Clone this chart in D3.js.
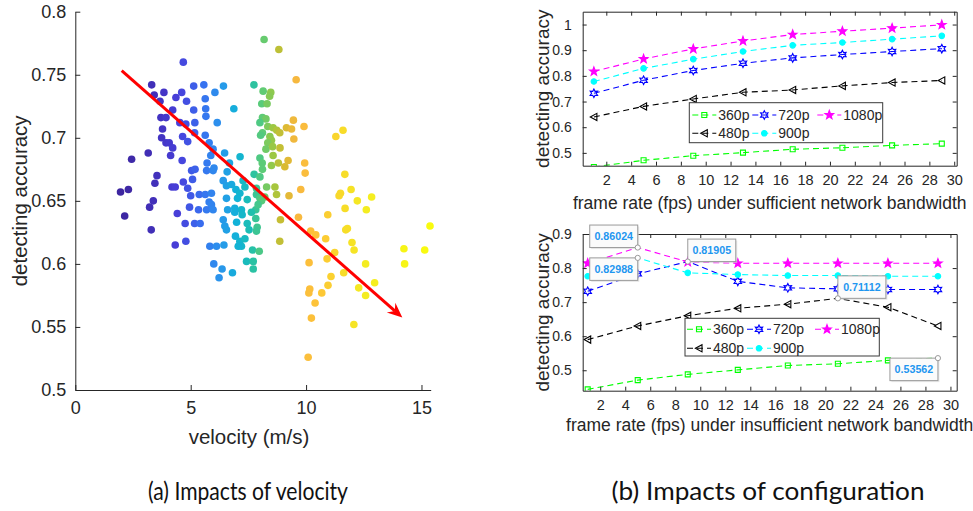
<!DOCTYPE html>
<html>
<head>
<meta charset="utf-8">
<script src="https://cdn.jsdelivr.net/npm/d3@7"></script>
<style>
  body { margin: 0; background: #fff; }
  svg { display: block; }
</style>
</head>
<body>
<svg id="chart" width="973" height="511"></svg>
<script>
// ---------------- DATA ----------------
// (a) scatter: velocity (m/s) vs detecting accuracy
const velocity = [
  4.68,3.31,3.42,3.84,3.67,4.36,4.61,4.82,5.13,5.57,6.05,6.42,5.63,5.13,5.65,5.66,5.18,6.15,6.87,4.22,
  3.71,3.93,4.53,4.79,3.78,3.74,3.93,4.07,4.22,4.13,4.65,4.87,5.17,5.63,5.80,5.97,5.87,5.71,5.69,5.97,
  6.47,7.14,6.68,6.58,3.16,2.44,4.63,3.54,3.45,4.19,4.33,5.04,5.19,4.68,4.87,5.08,1.96,2.30,3.38,3.22,
  5.37,5.63,5.90,5.00,5.80,5.90,6.41,6.55,6.77,6.96,7.13,7.27,7.75,6.01,7.35,7.03,7.45,6.55,
  8.18,8.82,9.57,7.74,8.14,8.47,8.42,8.08,8.31,8.11,8.26,8.00,8.34,8.57,8.73,8.86,9.15,9.37,9.45,9.91,
  9.47,8.11,8.03,8.43,8.50,8.34,8.26,8.55,8.87,8.57,8.50,8.80,9.08,9.22,9.94,9.96,8.00,8.10,8.11,8.00,
  11.29,11.60,11.68,11.95,11.49,11.43,12.22,12.84,11.69,12.61,9.77,9.26,8.65,8.72,8.29,7.85,7.85,8.00,8.21,8.07,
  2.14,3.29,4.42,4.95,4.76,5.17,5.41,4.33,4.79,5.34,5.69,5.97,5.83,6.12,6.44,6.00,6.36,6.23,6.81,6.41,
  6.48,6.55,6.60,6.91,7.20,7.23,6.94,7.13,7.20,7.42,7.35,7.53,7.68,7.45,6.91,6.99,7.06,7.71,7.71,7.97,
  7.82,7.88,7.82,7.92,7.63,7.85,
  8.89,8.86,9.67,10.94,15.37,10.20,10.42,10.85,11.79,11.72,11.99,12.08,11.24,10.91,10.13,12.58,14.24,15.14,14.27,11.63,
  11.08,12.97,10.95,12.28,12.58,10.16,10.12,10.68,10.39,10.23,12.07,10.09
];
const accuracy = [
  0.760,0.742,0.734,0.736,0.729,0.732,0.736,0.729,0.741,0.742,0.736,0.741,0.731,0.722,0.723,0.717,0.712,0.712,0.723,0.722,
  0.716,0.716,0.712,0.711,0.707,0.700,0.696,0.696,0.692,0.686,0.701,0.697,0.704,0.702,0.696,0.691,0.686,0.680,0.674,0.674,
  0.688,0.685,0.680,0.673,0.688,0.683,0.682,0.670,0.664,0.661,0.661,0.674,0.675,0.665,0.660,0.667,0.657,0.659,0.650,0.645,
  0.655,0.655,0.656,0.654,0.649,0.647,0.666,0.662,0.663,0.659,0.656,0.666,0.671,0.676,0.661,0.652,0.651,0.652,
  0.778,0.770,0.746,0.742,0.737,0.736,0.733,0.727,0.727,0.716,0.715,0.712,0.709,0.708,0.706,0.704,0.708,0.707,0.714,0.709,
  0.699,0.704,0.702,0.701,0.698,0.696,0.691,0.693,0.692,0.686,0.678,0.680,0.677,0.682,0.680,0.672,0.684,0.680,0.675,0.669,
  0.701,0.706,0.671,0.659,0.656,0.654,0.650,0.653,0.644,0.643,0.659,0.654,0.661,0.655,0.661,0.660,0.655,0.652,0.653,0.650,
  0.638,0.627,0.640,0.645,0.632,0.632,0.632,0.615,0.618,0.643,0.643,0.643,0.614,0.614,0.615,0.600,0.596,0.589,0.593,0.635,
  0.630,0.627,0.643,0.644,0.643,0.639,0.622,0.618,0.614,0.602,0.620,0.627,0.611,0.632,0.641,0.633,0.614,0.602,0.596,0.610,
  0.636,0.629,0.643,0.647,0.641,0.626,
  0.635,0.618,0.637,0.639,0.630,0.626,0.623,0.620,0.628,0.627,0.617,0.611,0.609,0.604,0.601,0.600,0.612,0.611,0.600,0.593,
  0.590,0.585,0.583,0.581,0.575,0.580,0.577,0.577,0.569,0.557,0.552,0.526
];
const trendVelocity = [2.01, 14.17];
const trendAccuracy = [0.7532, 0.5575];
const velocityTicks = [0, 5, 10, 15];
const velocityTickLabels = ["0", "5", "10", "15"];
const accuracyTicksA = [0.5, 0.55, 0.6, 0.65, 0.7, 0.75, 0.8];
const accuracyTickLabelsA = ["0.5", "0.55", "0.6", "0.65", "0.7", "0.75", "0.8"];

// (b) configuration: frame rate vs detecting accuracy
const frameRates = [1, 5, 9, 13, 17, 21, 25, 29];
const resolutions = ["360p", "480p", "720p", "900p", "1080p"];
const sufficient360 = [0.445, 0.471, 0.489, 0.501, 0.514, 0.520, 0.529, 0.536];
const sufficient480 = [0.640, 0.681, 0.710, 0.736, 0.745, 0.761, 0.774, 0.782];
const sufficient720 = [0.732, 0.783, 0.821, 0.849, 0.870, 0.883, 0.895, 0.906];
const sufficient900 = [0.778, 0.829, 0.865, 0.895, 0.919, 0.930, 0.943, 0.956];
const sufficient1080 = [0.817, 0.866, 0.905, 0.936, 0.961, 0.974, 0.986, 0.999];
const insufficient360 = [0.444, 0.471, 0.488, 0.501, 0.514, 0.519, 0.529, 0.53562];
const insufficient480 = [0.590, 0.630, 0.660, 0.682, 0.694, 0.71112, 0.685, 0.630];
const insufficient720 = [0.732, 0.783, 0.81905, 0.761, 0.742, 0.739, 0.737, 0.737];
const insufficient900 = [0.776, 0.82988, 0.786, 0.781, 0.778, 0.778, 0.776, 0.776];
const insufficient1080 = [0.814, 0.86024, 0.818, 0.814, 0.814, 0.814, 0.814, 0.814];
const frameRateTicks = [2, 4, 6, 8, 10, 12, 14, 16, 18, 20, 22, 24, 26, 28, 30];
const topAccuracyTicks = [0.5, 0.6, 0.7, 0.8, 0.9, 1];
const topAccuracyTickLabels = ["0.5", "0.6", "0.7", "0.8", "0.9", "1"];
const bottomAccuracyTicks = [0.5, 0.6, 0.7, 0.8, 0.9];
const bottomAccuracyTickLabels = ["0.5", "0.6", "0.7", "0.8", "0.9"];
// data tips shown on the insufficient-bandwidth plot
const tipSeries = ["1080p", "900p", "720p", "480p", "360p"];
const tipFrameRate = [5, 5, 9, 21, 29];
const tipValue = [0.86024, 0.82988, 0.81905, 0.71112, 0.53562];
const tipLabel = ["0.86024", "0.82988", "0.81905", "0.71112", "0.53562"];

// ---------------- DRAWING ----------------
const svg = d3.select("#chart");
const FONT = "'Liberation Sans', Arial, Helvetica, sans-serif";
const AXC = "#262626";

function styleAxis(g, fs) {
  g.selectAll("path.domain").attr("stroke", AXC).attr("stroke-width", 1);
  g.selectAll(".tick line").attr("stroke", AXC).attr("stroke-width", 1);
  g.selectAll(".tick text").attr("fill", AXC).attr("font-size", fs).attr("font-family", FONT);
}

// ===== (a) scatter =====
const lx = d3.scaleLinear().domain([0, 15.4]).range([75.3, 430.7]);
const ly = d3.scaleLinear().domain([0.5, 0.8]).range([390, 11.7]);
const color = d3.scaleLinear()
  .domain([2, 3.5, 4.5, 5.5, 6.3, 7.0, 7.6, 8.1, 8.6, 9.0, 9.6, 10.5, 11.5, 12.5, 15.4])
  .range(["#3d26a0","#4230bb","#4840db","#3870f0","#2a96ec","#12b2d8","#1cbfb0","#5ccb78",
          "#a0c840","#d4ba30","#f8b840","#fec438","#f8da2a","#f4ec22","#f9fb0e"])
  .clamp(true);

const gA = svg.append("g");
gA.append("g").selectAll("circle")
  .data(d3.range(velocity.length))
  .join("circle")
  .attr("cx", i => lx(velocity[i]))
  .attr("cy", i => ly(accuracy[i]))
  .attr("r", 3.8)
  .attr("fill", i => color(velocity[i]));

const axA_x = gA.append("g").attr("transform", `translate(0,${ly(0.5)})`)
  .call(d3.axisBottom(lx).tickValues(velocityTicks).tickFormat((d, i) => velocityTickLabels[i])
    .tickSizeInner(-5).tickSizeOuter(0).tickPadding(11));
styleAxis(axA_x, 18);
const axA_y = gA.append("g").attr("transform", `translate(${lx(0)},0)`)
  .call(d3.axisLeft(ly).tickValues(accuracyTicksA).tickFormat((d, i) => accuracyTickLabelsA[i])
    .tickSizeInner(-5).tickSizeOuter(0).tickPadding(9));
styleAxis(axA_y, 18);

// trend arrow
{
  const x0 = lx(trendVelocity[0]), y0 = ly(trendAccuracy[0]);
  const x1 = lx(trendVelocity[1]), y1 = ly(trendAccuracy[1]);
  const ang = Math.atan2(y1 - y0, x1 - x0);
  const L = 15, W = 6.5, N = 10;
  const ux = Math.cos(ang), uy = Math.sin(ang);
  const bx = x1 - ux * L, by = y1 - uy * L;
  const nx = x1 - ux * N, ny = y1 - uy * N;
  gA.append("line").attr("x1", x0).attr("y1", y0).attr("x2", nx).attr("y2", ny)
    .attr("stroke", "#ff0000").attr("stroke-width", 3);
  gA.append("path")
    .attr("d", `M${x1},${y1}L${bx - uy * W},${by + ux * W}L${nx},${ny}L${bx + uy * W},${by - ux * W}Z`)
    .attr("fill", "#ff0000");
}

gA.append("text").attr("x", 249).attr("y", 444).attr("text-anchor", "middle")
  .attr("font-family", FONT).attr("font-size", 20.5).attr("fill", AXC).text("velocity (m/s)");
gA.append("text").attr("transform", `translate(27,${(ly(0.5) + ly(0.8)) / 2}) rotate(-90)`)
  .attr("text-anchor", "middle").attr("font-family", FONT).attr("font-size", 20.5).attr("fill", AXC)
  .text("detecting accuracy");

// ===== (b) line panels =====
const seriesColor = { "360p": "#00ff00", "480p": "#000000", "720p": "#0000ff", "900p": "#00ffff", "1080p": "#ff00ff" };

function starPath(n, ro, ri) {
  let p = "";
  for (let k = 0; k < 2 * n; k++) {
    const r = k % 2 === 0 ? ro : ri;
    const a = -Math.PI / 2 + k * Math.PI / n;
    p += (k === 0 ? "M" : "L") + (r * Math.cos(a)).toFixed(2) + "," + (r * Math.sin(a)).toFixed(2);
  }
  return p + "Z";
}
const markerPath = {
  "360p": "M-2.5,-2.5H2.5V2.5H-2.5Z",
  "480p": "M-3.6,0L3,-3.6L3,3.6Z",
  "720p": starPath(6, 4.3, 2.3),
  "900p": d3.symbol(d3.symbolCircle, 24)(),
  "1080p": starPath(5, 4.6, 1.9)
};
const markerFill = { "360p": "none", "480p": "none", "720p": "none", "900p": "#00ffff", "1080p": "#ff00ff" };
const tipPlacement = [["left", "above"], ["left", "below"], ["right", "above"], ["right", "above"], ["left", "below"]];

function drawPanel(p) {
  const x = d3.scaleLinear().domain(p.xDomain).range([p.left, p.right]);
  const y = d3.scaleLinear().domain(p.yDomain).range([p.bottom, p.top]);
  const g = svg.append("g");
  const clipId = "clip-" + p.name;
  svg.append("defs").append("clipPath").attr("id", clipId).append("rect")
    .attr("x", p.left).attr("y", p.top).attr("width", p.right - p.left).attr("height", p.bottom - p.top);

  const line = d3.line().x((d, i) => x(frameRates[i])).y(d => y(d));
  const plot = g.append("g").attr("clip-path", `url(#${clipId})`);
  resolutions.forEach(r => {
    plot.append("path").attr("d", line(p.series[r])).attr("fill", "none")
      .attr("stroke", seriesColor[r]).attr("stroke-width", 1.1).attr("stroke-dasharray", "6,4");
  });
  resolutions.forEach(r => {
    const pts = p.series[r].map((v, i) => ({ v, f: frameRates[i] }))
      .filter(d => !(p.tips && p.tips.some(t => t.s === r && t.x === d.f)));
    plot.append("g").selectAll("path").data(pts).join("path")
      .attr("transform", d => `translate(${x(d.f)},${y(d.v)})`)
      .attr("d", markerPath[r]).attr("fill", markerFill[r])
      .attr("stroke", seriesColor[r]).attr("stroke-width", 1.1);
  });

  // axes box with inward ticks
  const ab = g.append("g").attr("transform", `translate(0,${p.bottom})`)
    .call(d3.axisBottom(x).tickValues(frameRateTicks).tickSizeInner(-4).tickSizeOuter(0).tickPadding(9));
  styleAxis(ab, 14.5);
  const at = g.append("g").attr("transform", `translate(0,${p.top})`)
    .call(d3.axisTop(x).tickValues(frameRateTicks).tickSizeInner(-4).tickSizeOuter(0).tickFormat(""));
  styleAxis(at, 14.5);
  const al = g.append("g").attr("transform", `translate(${p.left},0)`)
    .call(d3.axisLeft(y).tickValues(p.yTicks).tickFormat((d, i) => p.yTickLabels[i])
      .tickSizeInner(-4).tickSizeOuter(0).tickPadding(11));
  styleAxis(al, 14);
  const ar = g.append("g").attr("transform", `translate(${p.right},0)`)
    .call(d3.axisRight(y).tickValues(p.yTicks).tickSizeInner(-4).tickSizeOuter(0).tickFormat(""));
  styleAxis(ar, 14);

  // legend (3 columns, column-major order)
  const lg = g.append("g").attr("transform", `translate(${p.legend.x},${p.legend.y})`);
  lg.append("rect").attr("width", p.legend.w).attr("height", p.legend.h)
    .attr("fill", "#fff").attr("stroke", "#3a3a3a").attr("stroke-width", 1);
  const colX = p.legend.cols, rowY = p.legend.rows;
  resolutions.forEach((r, k) => {
    const c = Math.floor(k / 2), rr = k % 2;
    const lx0 = colX[c], yy = rowY[rr];
    lg.append("line").attr("x1", lx0).attr("x2", lx0 + 24).attr("y1", yy).attr("y2", yy)
      .attr("stroke", seriesColor[r]).attr("stroke-width", 1.1).attr("stroke-dasharray", "6,4");
    lg.append("path").attr("transform", `translate(${lx0 + 12},${yy})`).attr("d", markerPath[r])
      .attr("fill", markerFill[r]).attr("stroke", seriesColor[r]).attr("stroke-width", 1.1);
    lg.append("text").attr("x", lx0 + 26).attr("y", yy + 5).attr("font-family", FONT)
      .attr("font-size", 14).attr("fill", AXC).text(r);
  });

  // data tips
  if (p.tips) {
    p.tips.forEach(t => {
      const px = x(t.x), py = y(t.v);
      const bw = 48, bh = 22.5;
      const bx = t.pos[0] === "left" ? px - bw : px;
      const by = t.pos[1] === "above" ? py - bh : py;
      g.append("rect").attr("x", bx + 1.5).attr("y", by + 1.5).attr("width", bw).attr("height", bh)
        .attr("fill", "#d8d8d8").attr("opacity", 0.6);
      g.append("rect").attr("x", bx).attr("y", by).attr("width", bw).attr("height", bh)
        .attr("fill", "#fbfbfb").attr("stroke", "#9a9a9a").attr("stroke-width", 1);
      g.append("text").attr("x", bx + bw / 2).attr("y", by + bh / 2 + 4).attr("text-anchor", "middle")
        .attr("font-family", FONT).attr("font-weight", "bold").attr("font-size", 10.7)
        .attr("fill", "#1e96f0").text(t.label);
      g.append("circle").attr("cx", px).attr("cy", py).attr("r", 2.6)
        .attr("fill", "#ffffff").attr("stroke", "#9a9a9a").attr("stroke-width", 1);
    });
  }

  g.append("text").attr("x", (p.left + p.right) / 2).attr("y", p.xLabelY).attr("text-anchor", "middle")
    .attr("font-family", FONT).attr("font-size", 17.5).attr("fill", AXC).text(p.xLabel);
  g.append("text").attr("transform", `translate(549,${(p.top + p.bottom) / 2}) rotate(-90)`)
    .attr("text-anchor", "middle").attr("font-family", FONT).attr("font-size", 19).attr("fill", AXC)
    .text("detecting accuracy");
}

drawPanel({
  name: "top", left: 582.7, right: 956.7, top: 11.7, bottom: 165.7,
  xDomain: [0.1, 30.2], yDomain: [0.45, 1.05],
  yTicks: topAccuracyTicks, yTickLabels: topAccuracyTickLabels,
  series: { "360p": sufficient360, "480p": sufficient480, "720p": sufficient720, "900p": sufficient900, "1080p": sufficient1080 },
  legend: { x: 689.3, y: 102.7, w: 193.4, h: 40, cols: [3, 63, 128], rows: [12.3, 30.6] },
  xLabel: "frame rate (fps) under sufficient network bandwidth", xLabelY: 209
});

drawPanel({
  name: "bottom", left: 582.7, right: 956.7, top: 234, bottom: 390.7,
  xDomain: [0.6, 30.5], yDomain: [0.44, 0.9],
  yTicks: bottomAccuracyTicks, yTickLabels: bottomAccuracyTickLabels,
  series: { "360p": insufficient360, "480p": insufficient480, "720p": insufficient720, "900p": insufficient900, "1080p": insufficient1080 },
  legend: { x: 685, y: 318.3, w: 194.3, h: 37.7, cols: [2, 62, 130], rows: [11, 30] },
  tips: tipSeries.map((s, i) => ({ s, x: tipFrameRate[i], v: tipValue[i], label: tipLabel[i], pos: tipPlacement[i] })),
  xLabel: "frame rate (fps) under insufficient network bandwidth", xLabelY: 431
});

// captions
svg.append("text").attr("x", 248).attr("y", 500).attr("text-anchor", "middle")
  .attr("font-family", "Lato, 'DejaVu Sans', sans-serif").attr("font-size", 25).attr("fill", "#111")
  .attr("textLength", 200).attr("lengthAdjust", "spacingAndGlyphs").text("(a) Impacts of velocity");
svg.append("text").attr("x", 768).attr("y", 500).attr("text-anchor", "middle")
  .attr("font-family", "Lato, 'DejaVu Sans', sans-serif").attr("font-size", 25).attr("fill", "#111")
  .attr("textLength", 313).attr("lengthAdjust", "spacingAndGlyphs").text("(b) Impacts of configuration");
</script>
</body>
</html>
